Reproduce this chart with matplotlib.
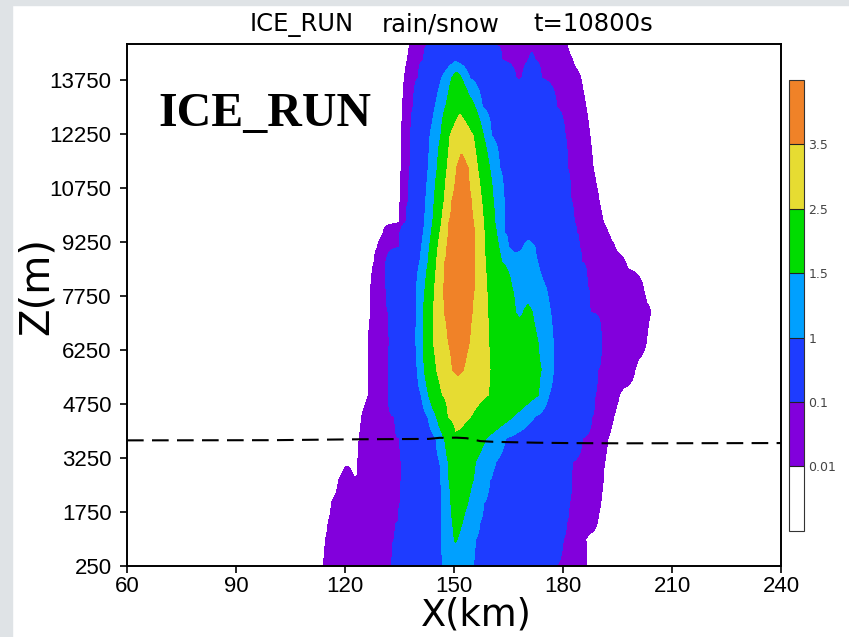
import matplotlib
matplotlib.use("Agg")
import matplotlib.pyplot as plt
import numpy as np
from matplotlib.colors import ListedColormap, BoundaryNorm
from matplotlib.patches import Rectangle
import matplotlib.cm as cm

# contour levels / colours (GrADS style)
levels = [0.01, 0.1, 1, 1.5, 2.5, 3.5]
level_labels = ["0.01", "0.1", "1", "1.5", "2.5", "3.5"]
colors = ["#8200dc", "#1e3cff", "#00a0ff", "#00dc00", "#e6dc32", "#f08228"]

# rain/snow field: (x km, value) at each height
p250 = [(112.9, 0), (113.9, 0.01), (132.9, 0.1), (146.8, 1.0), (151.0, 1.2), (155.2, 1.0), (178.1, 0.1), (186.6, 0.01), (187.6, 0)]
p1000 = [(113.6, 0), (114.6, 0.01), (133.7, 0.1), (146.6, 1.0), (150.4, 1.55), (155.9, 1.0), (180.1, 0.1), (186.3, 0.01), (187.3, 0)]
p1500 = [(114.4, 0), (115.4, 0.01), (134.8, 0.1), (146.6, 1.0), (149.5, 1.5), (151.0, 1.65), (152.4, 1.5), (157.2, 1.0), (181.1, 0.1), (189.5, 0.01), (190.5, 0)]
p2000 = [(115.3, 0), (116.3, 0.01), (135.2, 0.1), (146.6, 1.0), (149.1, 1.5), (151.5, 1.7), (153.8, 1.5), (158.2, 1.0), (181.7, 0.1), (190.4, 0.01), (191.4, 0)]
p2650 = [(117.3, 0), (118.3, 0.01), (120.8, 0.03), (123.2, 0.01), (135.6, 0.1), (146.4, 1.0), (148.6, 1.5), (152.0, 1.8), (155.3, 1.5), (159.9, 1.0), (182.4, 0.1), (191.1, 0.01), (192.1, 0)]
p2900 = [(118.5, 0), (119.5, 0.01), (120.6, 0.02), (121.7, 0.01), (122.5, 0.0), (123.4, 0.01), (135.6, 0.1), (146.3, 1.0), (148.6, 1.5), (152.0, 1.85), (155.6, 1.5), (160.8, 1.0), (182.4, 0.1), (191.2, 0.01), (192.2, 0)]
p3150 = [(122.5, 0), (123.5, 0.01), (135.6, 0.1), (146.1, 1.0), (148.4, 1.5), (152.0, 1.9), (155.9, 1.5), (161.5, 1.0), (182.7, 0.1), (191.5, 0.01), (192.5, 0)]
p3800 = [(122.9, 0), (123.9, 0.01), (135.1, 0.1), (145.0, 1.0), (147.4, 1.5), (150.5, 2.4), (158.8, 1.5), (164.3, 1.0), (185.4, 0.1), (192.4, 0.01), (193.4, 0)]
p4400 = [(123.6, 0), (124.6, 0.01), (133.7, 0.1), (142.8, 1.0), (145.2, 1.5), (148.4, 2.5), (151.5, 2.8), (154.6, 2.5), (166.3, 1.5), (172.3, 1.0), (188.0, 0.1), (193.9, 0.01), (194.9, 0)]
p5000 = [(125.4, 0), (126.4, 0.01), (131.9, 0.1), (141.0, 1.0), (143.0, 1.5), (146.8, 2.5), (152.0, 2.9), (159.4, 2.5), (173.3, 1.5), (176.1, 1.0), (188.8, 0.1), (195.5, 0.01), (196.5, 0)]
p5700 = [(125.4, 0), (126.4, 0.01), (131.9, 0.1), (139.9, 1.0), (141.8, 1.5), (145.2, 2.5), (149.6, 3.5), (151.1, 3.7), (152.6, 3.5), (159.9, 2.5), (174.0, 1.5), (177.4, 1.0), (189.5, 0.1), (199.8, 0.01), (200.8, 0)]
p6500 = [(125.4, 0), (126.4, 0.01), (132.4, 0.1), (139.5, 1.0), (141.6, 1.5), (144.3, 2.5), (148.4, 3.5), (151.3, 3.9), (154.3, 3.5), (159.5, 2.5), (173.1, 1.5), (177.3, 1.0), (190.6, 0.1), (203.0, 0.01), (204.0, 0)]
p7300 = [(126.1, 0), (127.1, 0.01), (131.9, 0.1), (139.6, 1.0), (141.6, 1.5), (144.3, 2.5), (147.3, 3.5), (151.1, 4.0), (155.0, 3.5), (159.3, 2.5), (166.9, 1.5), (168.0, 1.4), (169.1, 1.5), (170.4, 1.6), (171.6, 1.5), (176.6, 1.0), (187.4, 0.1), (204.2, 0.01), (205.2, 0)]
p8000 = [(126.1, 0), (127.1, 0.01), (131.3, 0.1), (139.7, 1.0), (142.1, 1.5), (144.7, 2.5), (147.1, 3.5), (151.4, 4.0), (155.7, 3.5), (159.0, 2.5), (165.9, 1.5), (175.3, 1.0), (186.7, 0.1), (202.1, 0.01), (203.1, 0)]
p8700 = [(127.0, 0), (128.0, 0.01), (131.3, 0.1), (140.6, 1.0), (142.9, 1.5), (145.2, 2.5), (147.5, 3.5), (151.7, 4.0), (155.8, 3.5), (158.6, 2.5), (163.1, 1.5), (173.0, 1.0), (185.1, 0.1), (197.1, 0.01), (198.1, 0)]
p9100 = [(127.9, 0), (128.9, 0.01), (135.1, 0.1), (141.1, 1.0), (143.3, 1.5), (145.6, 2.5), (148.0, 3.5), (152.0, 4.0), (155.8, 3.5), (158.4, 2.5), (162.3, 1.5), (165.0, 1.0), (167.0, 0.8), (169.0, 1.0), (170.6, 1.3), (172.3, 1.0), (184.5, 0.1), (194.3, 0.01), (195.3, 0)]
p9500 = [(129.5, 0), (130.5, 0.01), (135.1, 0.1), (141.6, 1.0), (143.8, 1.5), (146.1, 2.5), (148.4, 3.5), (152.0, 4.0), (155.8, 3.5), (158.3, 2.5), (161.7, 1.5), (164.0, 1.0), (183.8, 0.1), (192.5, 0.01), (193.5, 0)]
p9800 = [(134.0, 0), (135.0, 0.01), (136.8, 0.1), (141.9, 1.0), (144.2, 1.5), (146.6, 2.5), (148.6, 3.5), (152.0, 4.0), (155.4, 3.5), (158.1, 2.5), (161.2, 1.5), (163.8, 1.0), (183.1, 0.1), (191.1, 0.01), (192.1, 0)]
p10400 = [(134.2, 0), (135.2, 0.01), (137.5, 0.1), (142.2, 1.0), (144.6, 1.5), (147.3, 2.5), (149.4, 3.5), (152.1, 4.0), (154.8, 3.5), (157.6, 2.5), (160.8, 1.5), (163.8, 1.0), (182.2, 0.1), (189.9, 0.01), (190.9, 0)]
p11300 = [(134.5, 0), (135.5, 0.01), (137.9, 0.1), (142.9, 1.0), (145.4, 1.5), (148.1, 2.5), (150.7, 3.5), (152.3, 3.8), (153.9, 3.5), (156.5, 2.5), (159.8, 1.5), (162.6, 1.0), (181.3, 0.1), (188.3, 0.01), (189.3, 0)]
p12200 = [(134.6, 0), (135.6, 0.01), (138.1, 0.1), (143.4, 1.0), (146.4, 1.5), (148.9, 2.5), (151.8, 3.2), (155.3, 2.5), (158.1, 1.5), (160.3, 1.0), (180.6, 0.1), (187.4, 0.01), (188.4, 0)]
p13000 = [(134.9, 0), (135.9, 0.01), (138.8, 0.1), (144.8, 1.0), (147.7, 1.5), (151.5, 2.3), (155.8, 1.5), (157.8, 1.0), (178.3, 0.1), (186.3, 0.01), (187.3, 0)]
p13800 = [(135.4, 0), (136.4, 0.01), (140.2, 0.1), (146.6, 1.0), (149.4, 1.5), (150.7, 1.8), (152.1, 1.5), (154.4, 1.0), (167.1, 0.1), (167.9, 0.08), (168.7, 0.1), (171.4, 0.2), (174.1, 0.1), (184.9, 0.01), (185.9, 0)]
p14300 = [(136.2, 0), (137.2, 0.01), (141.6, 0.1), (150.3, 0.95), (163.2, 0.1), (166.8, 0.05), (170.5, 0.1), (171.4, 0.15), (172.4, 0.1), (182.6, 0.01), (183.6, 0)]
p14750 = [(136.9, 0), (137.9, 0.01), (142.9, 0.1), (151.0, 0.5), (160.1, 0.1), (170.0, 0.05), (181.0, 0.01), (182.0, 0)]

z_rows = [250, 1000, 1500, 2000, 2650, 2900, 3150, 3800, 4400, 5000, 5700, 6500, 7300,
          8000, 8700, 9100, 9500, 9800, 10400, 11300, 12200, 13000, 13800, 14300, 14750]
profiles = [p250, p1000, p1500, p2000, p2650, p2900, p3150, p3800, p4400, p5000, p5700, p6500, p7300,
            p8000, p8700, p9100, p9500, p9800, p10400, p11300, p12200, p13000, p13800, p14300, p14750]

# dashed line (freezing level)
frz_x = [60, 100, 124, 143, 146, 150.7, 153.5, 157.2, 160.8, 165.4, 172.7, 181, 196, 240]
frz_z = [3740, 3745, 3770, 3780, 3810, 3815, 3800, 3720, 3700, 3690, 3675, 3665, 3658, 3665]

xticks = [60, 90, 120, 150, 180, 210, 240]
yticks = [250, 1750, 3250, 4750, 6250, 7750, 9250, 10750, 12250, 13750]
title_parts = ["ICE_RUN", "rain/snow", "t=10800s"]

# build grid from the transects
xf = np.linspace(60, 240, 1441)
field = np.zeros((len(z_rows), len(xf)))
for i, prof in enumerate(profiles):
    px = [p[0] for p in prof]
    pv = [p[1] for p in prof]
    field[i] = np.interp(xf, px, pv, left=0, right=0)

W, H = 849, 637
fig = plt.figure(figsize=(W / 100, H / 100), dpi=100)
fig.add_artist(Rectangle((0, 0), 12 / W, 1, transform=fig.transFigure, color="#dfe3e6", zorder=-5))
fig.add_artist(Rectangle((0, 1 - 5 / H), 1, 5 / H, transform=fig.transFigure, color="#dfe3e6", zorder=-5))

ax = fig.add_axes([127 / W, 1 - 566 / H, 654 / W, 522 / H])
ax.contourf(xf, z_rows, field, levels=levels + [10], colors=colors, antialiased=False)
ax.plot(frz_x, frz_z, color="k", lw=1.5, ls=(0, (8, 4)))

ax.set_xlim(60, 240)
ax.set_ylim(250, 14750)
ax.set_xticks(xticks)
ax.set_yticks(yticks)
ax.tick_params(direction="out", length=5, width=1.2, labelsize=16, top=False, right=False)
ax.tick_params(axis="y", pad=6)
ax.tick_params(axis="x", pad=2.5)
for lab in ax.get_xticklabels() + ax.get_yticklabels():
    lab.set_fontfamily("Liberation Sans")
for s in ax.spines.values():
    s.set_linewidth(1.4)

# title, in three pieces like the GrADS header
for txt, xp in zip(title_parts, [250, 382, 533]):
    fig.text(xp / W, 1 - 31 / H, txt, fontsize=17.5, ha="left", va="baseline")

ax.set_xlabel("X(km)", fontsize=26.5)
ax.set_ylabel("Z(m)", fontsize=29)
ax.xaxis.set_label_coords(0.534, -0.0945)
ax.yaxis.set_label_coords(-0.1376, 0.536)
ax.xaxis.label.set_va("center")
ax.yaxis.label.set_va("center")

ax.text(0.0474, 0.843, "ICE_RUN", transform=ax.transAxes, fontfamily="Liberation Serif",
        fontweight="bold", fontsize=34.5, va="baseline", ha="left")

# colour bar
cax = fig.add_axes([788.7 / W, 1 - 530.7 / H, 15.6 / W, 450.7 / H])
sm = cm.ScalarMappable(norm=BoundaryNorm([0] + levels + [4.5], 7), cmap=ListedColormap(["white"] + colors))
cb = fig.colorbar(sm, cax=cax, ticks=levels, drawedges=True)
cb.ax.set_yticklabels(level_labels)
cb.ax.minorticks_off()
cb.ax.tick_params(which="both", length=0, labelsize=9, labelcolor="#444444", pad=3)
cb.outline.set_linewidth(0.8)
cb.outline.set_edgecolor("#333333")
cb.dividers.set_linewidth(0.8)
cb.dividers.set_color("#222222")

fig.savefig("out.png", dpi=100)
